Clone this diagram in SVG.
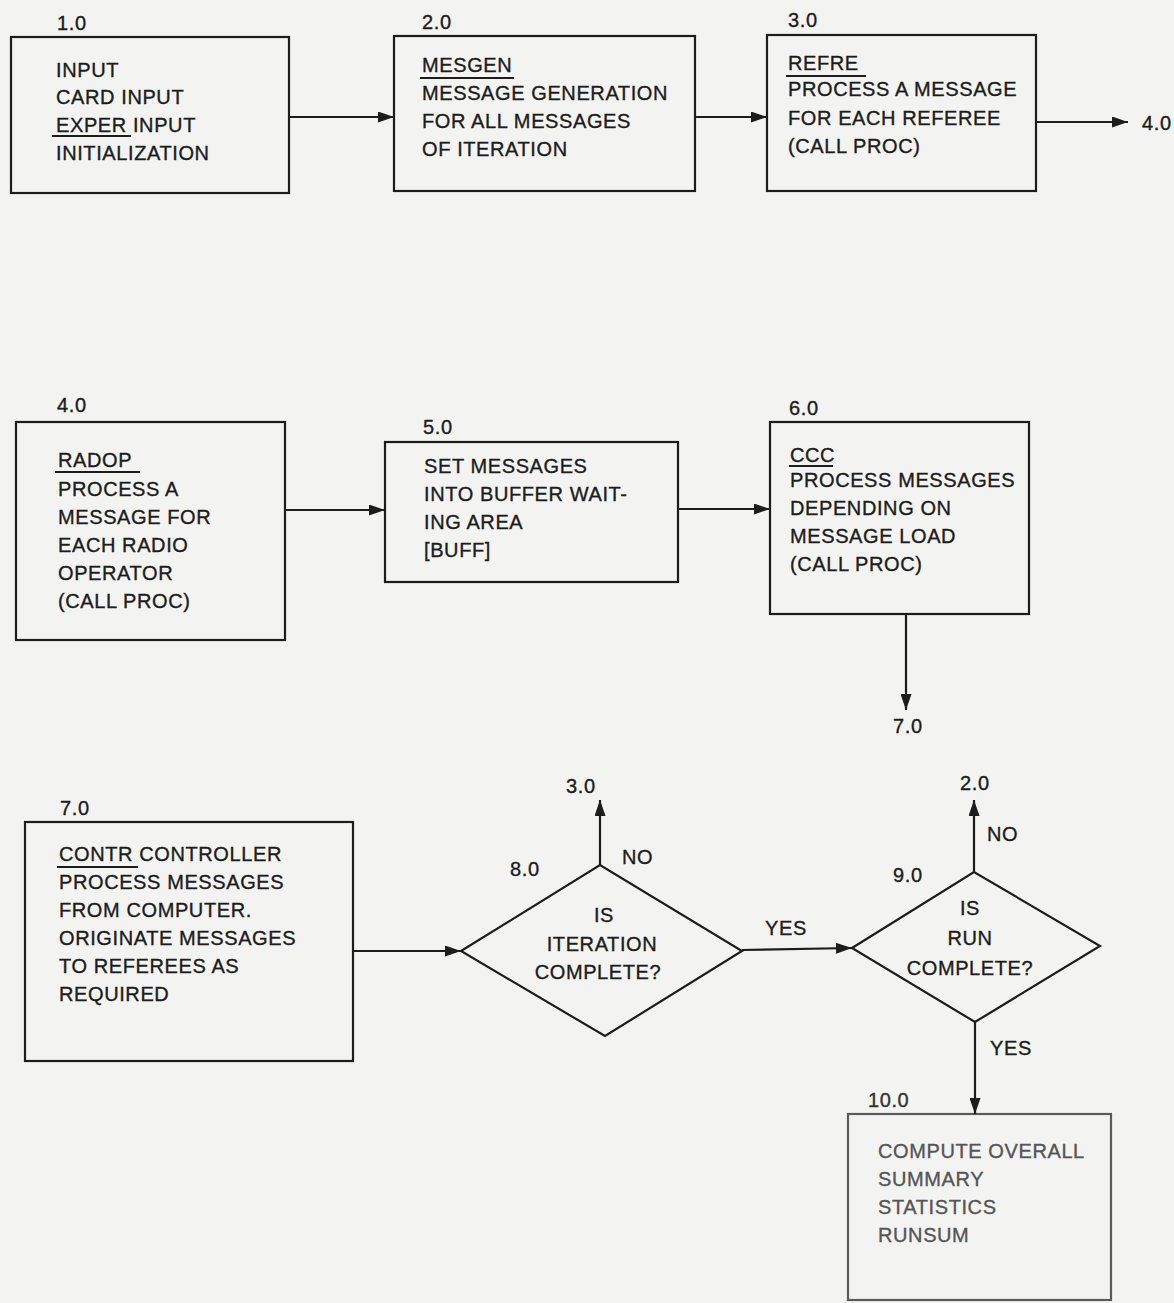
<svg xmlns="http://www.w3.org/2000/svg" width="1174" height="1303" viewBox="0 0 1174 1303">
<style>
.bg{fill:#f3f3f1}
.box{fill:none;stroke:#1c1c1c;stroke-width:2.2}
.t{font-family:"Liberation Sans",Arial,sans-serif;font-size:20px;letter-spacing:0.6px;fill:#1c1c1c;stroke:#1c1c1c;stroke-width:0.35}
.c{text-anchor:middle}
.ul{stroke:#1c1c1c;stroke-width:1.8}
.con{fill:none;stroke:#1c1c1c;stroke-width:2.2}
.faint .box{stroke:#5a5a5a}
.faint .t{fill:#555;stroke:#555}
</style>
<defs>
<marker id="ah" viewBox="0 0 16 11" refX="16" refY="5.5" markerWidth="16" markerHeight="11" markerUnits="userSpaceOnUse" orient="auto">
<path d="M0,0 L16,5.5 L0,11 z" fill="#1c1c1c"/>
</marker>
</defs>
<rect class="bg" x="0" y="0" width="1174" height="1303"/>

<g id="n1">
<text class="t" x="57" y="30">1.0</text>
<rect class="box" x="11" y="37" width="278" height="156"/>
<text class="t" x="56" y="77">INPUT</text>
<text class="t" x="56" y="104">CARD INPUT</text>
<text class="t" x="56" y="132">EXPER INPUT</text>
<line class="ul" x1="52" y1="136" x2="131" y2="136"/>
<text class="t" x="56" y="160">INITIALIZATION</text>
</g>

<g id="n2">
<text class="t" x="422" y="29">2.0</text>
<rect class="box" x="394" y="36" width="301" height="155"/>
<text class="t" x="422" y="72">MESGEN</text>
<line class="ul" x1="420" y1="78" x2="514" y2="78"/>
<text class="t" x="422" y="100">MESSAGE GENERATION</text>
<text class="t" x="422" y="128">FOR ALL MESSAGES</text>
<text class="t" x="422" y="156">OF ITERATION</text>
</g>

<g id="n3">
<text class="t" x="788" y="27">3.0</text>
<rect class="box" x="767" y="35" width="269" height="156"/>
<text class="t" x="788" y="70">REFRE</text>
<line class="ul" x1="786" y1="76" x2="866" y2="76"/>
<text class="t" x="788" y="96">PROCESS A MESSAGE</text>
<text class="t" x="788" y="125">FOR EACH REFEREE</text>
<text class="t" x="788" y="153">(CALL PROC)</text>
</g>

<g id="n4">
<text class="t" x="57" y="412">4.0</text>
<rect class="box" x="16" y="422" width="269" height="218"/>
<text class="t" x="58" y="467">RADOP</text>
<line class="ul" x1="55" y1="472" x2="140" y2="472"/>
<text class="t" x="58" y="496">PROCESS A</text>
<text class="t" x="58" y="524">MESSAGE FOR</text>
<text class="t" x="58" y="552">EACH RADIO</text>
<text class="t" x="58" y="580">OPERATOR</text>
<text class="t" x="58" y="608">(CALL PROC)</text>
</g>

<g id="n5">
<text class="t" x="423" y="434">5.0</text>
<rect class="box" x="385" y="442" width="293" height="140"/>
<text class="t" x="424" y="473">SET MESSAGES</text>
<text class="t" x="424" y="501">INTO BUFFER WAIT-</text>
<text class="t" x="424" y="529">ING AREA</text>
<text class="t" x="424" y="557">[BUFF]</text>
</g>

<g id="n6">
<text class="t" x="789" y="415">6.0</text>
<rect class="box" x="770" y="422" width="259" height="192"/>
<text class="t" x="790" y="462">CCC</text>
<line class="ul" x1="789" y1="466" x2="833" y2="466"/>
<text class="t" x="790" y="487">PROCESS MESSAGES</text>
<text class="t" x="790" y="515">DEPENDING ON</text>
<text class="t" x="790" y="543">MESSAGE LOAD</text>
<text class="t" x="790" y="571">(CALL PROC)</text>
</g>

<g id="n7">
<text class="t" x="60" y="815">7.0</text>
<rect class="box" x="25" y="822" width="328" height="239"/>
<text class="t" x="59" y="861">CONTR CONTROLLER</text>
<line class="ul" x1="57" y1="867" x2="138" y2="867"/>
<text class="t" x="59" y="889">PROCESS MESSAGES</text>
<text class="t" x="59" y="917">FROM COMPUTER.</text>
<text class="t" x="59" y="945">ORIGINATE MESSAGES</text>
<text class="t" x="59" y="973">TO REFEREES AS</text>
<text class="t" x="59" y="1001">REQUIRED</text>
</g>

<g id="n8">
<text class="t" x="510" y="876">8.0</text>
<polygon class="box" points="461,951 600,865 742,951 605,1036"/>
<text class="t c" x="604" y="922">IS</text>
<text class="t c" x="602" y="951">ITERATION</text>
<text class="t c" x="598" y="979">COMPLETE?</text>
</g>

<g id="n9">
<text class="t" x="893" y="882">9.0</text>
<polygon class="box" points="852,948 974,872 1100,946 975,1022"/>
<text class="t c" x="970" y="915">IS</text>
<text class="t c" x="970" y="945">RUN</text>
<text class="t c" x="970" y="975">COMPLETE?</text>
</g>

<g id="n10" class="faint">
<text class="t" x="868" y="1107" style="fill:#333;stroke:#333">10.0</text>
<rect class="box" x="848" y="1114" width="263" height="186"/>
<text class="t" x="878" y="1158">COMPUTE OVERALL</text>
<text class="t" x="878" y="1186">SUMMARY</text>
<text class="t" x="878" y="1214">STATISTICS</text>
<text class="t" x="878" y="1242">RUNSUM</text>
</g>

<g id="connectors">
<line class="con" x1="289" y1="117" x2="394" y2="117" marker-end="url(#ah)"/>
<line class="con" x1="695" y1="117" x2="767" y2="117" marker-end="url(#ah)"/>
<line class="con" x1="1036" y1="122" x2="1128" y2="122" marker-end="url(#ah)"/>
<text class="t" x="1142" y="130">4.0</text>
<line class="con" x1="285" y1="510" x2="385" y2="510" marker-end="url(#ah)"/>
<line class="con" x1="678" y1="509" x2="770" y2="509" marker-end="url(#ah)"/>
<line class="con" x1="906" y1="614" x2="906" y2="710" marker-end="url(#ah)"/>
<text class="t" x="893" y="733">7.0</text>
<line class="con" x1="353" y1="951" x2="461" y2="951" marker-end="url(#ah)"/>
<line class="con" x1="600" y1="865" x2="600" y2="800" marker-end="url(#ah)"/>
<text class="t" x="566" y="793">3.0</text>
<text class="t" x="622" y="864">NO</text>
<line class="con" x1="742" y1="950" x2="852" y2="948" marker-end="url(#ah)"/>
<text class="t" x="765" y="935">YES</text>
<line class="con" x1="974" y1="872" x2="974" y2="800" marker-end="url(#ah)"/>
<text class="t" x="960" y="790">2.0</text>
<text class="t" x="987" y="841">NO</text>
<line class="con" x1="975" y1="1022" x2="975" y2="1114" marker-end="url(#ah)"/>
<text class="t" x="990" y="1055">YES</text>
</g>
</svg>
